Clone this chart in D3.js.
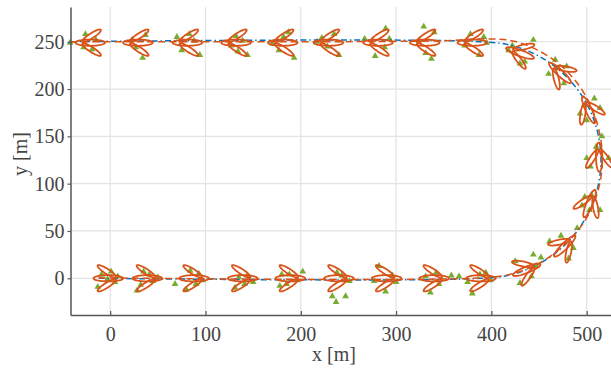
<!DOCTYPE html>
<html><head><meta charset="utf-8">
<script src="https://cdn.jsdelivr.net/npm/d3@7"></script>
<style>body{margin:0;background:#fff}svg{display:block}</style>
</head><body><svg id="c" width="611" height="368"></svg>
<script>
// ---- data ----
const xTicks = [0,100,200,300,400,500];
const yTicks = [0,50,100,150,200,250];
const truthX = [-12,390,422.4,452.5,478.4,498.3,510.7,515,510.7,498.3,478.4,452.5,422.4,390,-42];
const truthY = [0,0,4.3,16.7,36.6,62.5,92.6,125,157.4,187.5,213.4,233.3,245.7,250,250];
const estX = [-12,390,423,453,479,499.5,512,516.5,512.5,501,482,456,424,392,350,-42];
const estY = [0.5,0.5,5,17.5,37.5,63,93,125,158,189,216,237,250.5,253,251,250];
const planeX = [-2,39,88,139,189,240,290,340,389,437,477,503,513,502,472,430,380,330,281,229,181,132,81,29,-21];
const planeY = [0,0,0,0,0,0,0,0,0,9,34,79,128,178,217,238,249,249,249,249,249,249,249,249,249];
const planeHeading = [0,0,0,0,0,0,0,0,0,22,45,68,91,114,137,160,180,180,180,180,180,180,180,180,180];
const measX = [-9,-3,5,-13,1,8, 35,32,45,41,28,50, 68,93,90,84,97,80, 141,144,135,150,131,
  180,188,202,185,196,178, 233,237,247,243,251,238, 282,289,296,277,300, 331,342,358,366,345,336,
  380,394,388,375,399, 444,425,442,430,447,452, 461,490,486,481,473, 505,495,514,503,498,
  516,500,504,523,510, 498,514,500,493,508, 467,479,460,476,470, 444,418,430,435,422,
  378,392,387,372,395, 329,340,331,337,324, 267,289,278,293,288, 217,235,240,228,222,
  182,177,193,187,170, 132,134,144,139,127, 70,83,94,75,88, 23,34,37,27, -26,-28,-42,-15,-19];
const measY = [4,-1,-4,-9,7,2, 7,-7,-3,4,-13,1, -6,5,-6,8,-2,-12, -6,3,1,-4,-10,
  4,4,7,-6,-2,-8, -19,-25,-19,3,-3,6, 13,-14,3,-3,-4, 2,6,3,2,-6,-15,
  -16,6,4,-4,-2, 25,18,2,-5,13,22, 39,53,32,21,45, 88,77,72,72,86,
  150,127,118,127,139, 183,180,167,174,190, 231,224,216,206,222, 252,241,227,229,246,
  258,255,236,246,249, 266,260,238,232,251, 253,264,235,253,244, 250,258,236,245,254,
  255,241,233,260,248, 256,240,236,251,246, 255,258,236,241,251, 252,233,257,244, 258,244,249,252,242];
// plane shape: [centerU, centerV, semiA, semiB, angleDeg] in body frame
const shapeParts = [[0,0,15.5,3.3,0],[-1.5,7.3,11.5,2.6,147],[-1.5,-7.3,11.5,2.6,-147]];

// ---- chart ----
const svg = d3.select('#c');
const x = d3.scaleLinear().domain([-41.66,525.5]).range([70.5,611]);
const y = d3.scaleLinear().domain([-38.8,286.7]).range([315,7]);
const font = "'Liberation Serif','Times New Roman',serif";
const gGrid = svg.append('g').attr('stroke','#e3e3e3').attr('stroke-width',1.2);
xTicks.forEach(t=>gGrid.append('line').attr('x1',x(t)).attr('x2',x(t)).attr('y1',y.range()[1]).attr('y2',y.range()[0]));
yTicks.forEach(t=>gGrid.append('line').attr('x1',x.range()[0]).attr('x2',x.range()[1]).attr('y1',y(t)).attr('y2',y(t)));

const plot = svg.append('g');
// measurements
const tri = d3.symbol().type(d3.symbolTriangle).size(20);
plot.append('g').selectAll('path').data(measX.map((v,i)=>[v,measY[i]])).join('path')
  .attr('d',tri).attr('transform',d=>`translate(${x(d[0])},${y(d[1])})`).attr('fill','#77AC30');

const line = d3.line().x(d=>x(d[0])).y(d=>y(d[1])).curve(d3.curveCatmullRom);
plot.append('path').datum(truthX.map((v,i)=>[v,truthY[i]])).attr('d',line)
  .attr('fill','none').attr('stroke','#0072BD').attr('stroke-width',1.5).attr('stroke-dasharray','6,3,1.5,3');
plot.append('path').datum(estX.map((v,i)=>[v,estY[i]])).attr('d',line)
  .attr('fill','none').attr('stroke','#D95319').attr('stroke-width',1.5).attr('stroke-dasharray','7,4');

// planes
const gP = plot.append('g').attr('fill','none').attr('stroke','#D95319').attr('stroke-width',1.8);
planeX.forEach((px,i)=>{
  const h = planeHeading[i]*Math.PI/180, py = planeY[i];
  shapeParts.forEach(([cu,cv,a,b,ang])=>{
    const r = ang*Math.PI/180, pts=[];
    for(let k=0;k<=72;k++){
      const t = k/72*2*Math.PI;
      const lu = a*Math.cos(t), lv = b*Math.sin(t);
      const u = cu + lu*Math.cos(r) - lv*Math.sin(r);
      const v = cv + lu*Math.sin(r) + lv*Math.cos(r);
      pts.push([px + u*Math.cos(h) - v*Math.sin(h), py + u*Math.sin(h) + v*Math.cos(h)]);
    }
    gP.append('path').attr('d', d3.line().x(d=>x(d[0])).y(d=>y(d[1]))(pts)+'Z');
  });
});

// axes
const ax = svg.append('g').attr('transform',`translate(0,${y.range()[0]})`)
  .call(d3.axisBottom(x).tickValues(xTicks).tickSizeInner(-4).tickSizeOuter(0).tickPadding(12));
const ay = svg.append('g').attr('transform',`translate(${x.range()[0]},0)`)
  .call(d3.axisLeft(y).tickValues(yTicks).tickSizeInner(3).tickSizeOuter(0).tickPadding(3));
[ax,ay].forEach(g=>{
  g.select('.domain').attr('stroke','#555').attr('stroke-width',1.5);
  g.selectAll('.tick line').attr('stroke','#555').attr('stroke-width',1.2);
  g.selectAll('text').attr('font-family',font).attr('font-size',20).attr('fill','#444');
});
svg.append('text').attr('x',334).attr('y',361).attr('text-anchor','middle')
  .attr('font-family',font).attr('font-size',20).attr('fill','#444').text('x [m]');
svg.append('text').attr('transform','translate(27,154) rotate(-90)').attr('text-anchor','middle')
  .attr('font-family',font).attr('font-size',20).attr('fill','#444').text('y [m]');
</script></body></html>
